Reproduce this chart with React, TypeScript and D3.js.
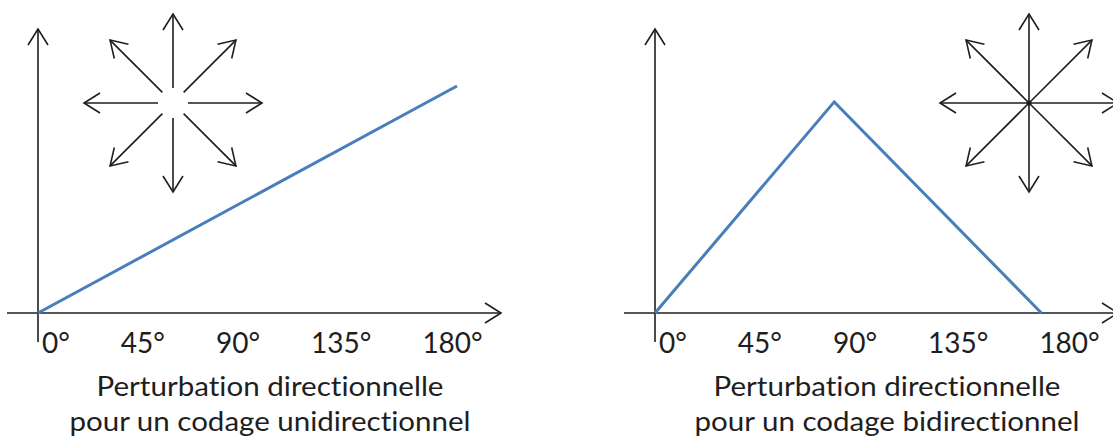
import React from 'react';
import * as d3 from 'd3';

// tick labels along the horizontal axis (degrees)
const tickLabels = ['0°', '45°', '90°', '135°', '180°'];

// unidirectional coding: perturbation grows with the angle
const uniAngles = [0, 180];
const uniValues = [0, 1];

// bidirectional coding: rises then falls back to zero
const biAngles = [0, 77, 166];
const biValues = [0, 0.93, 0];

// directions of the little compass (degrees)
const directions = [0, 45, 90, 135, 180, 225, 270, 315];

const titles = [
  ['Perturbation directionnelle', 'pour un codage unidirectionnel'],
  ['Perturbation directionnelle', 'pour un codage bidirectionnel'],
];

const W = 1113;
const H = 445;
const INK = '#1e1e1e';
const BLUE = '#4a7ebb';
const FONT = 'Lato, "Open Sans", sans-serif';
const noLig = { fontVariantLigatures: 'none', fontFeatureSettings: '"liga" 0, "clig" 0' } as React.CSSProperties;

const x = d3.scaleLinear().domain([0, 180]).range([0, 419]);
const y = d3.scaleLinear().domain([0, 1]).range([0, -227]);

// open "V" arrow head at (tx,ty) pointing along angle a (radians)
const chevron = (tx: number, ty: number, a: number, depth = 16, half = 10) => {
  const bx = tx - depth * Math.cos(a);
  const by = ty - depth * Math.sin(a);
  const nx = -Math.sin(a) * half;
  const ny = Math.cos(a) * half;
  return `M${bx + nx},${by + ny}L${tx},${ty}L${bx - nx},${by - ny}`;
};

const Compass: React.FC<{ cx: number; cy: number; inner: number }> = ({ cx, cy, inner }) => {
  const outer = 89;
  return (
    <g transform={`translate(${cx},${cy})`}>
      {directions.map(deg => {
        const a = (-deg * Math.PI) / 180;
        const x0 = inner * Math.cos(a);
        const y0 = inner * Math.sin(a);
        const x1 = outer * Math.cos(a);
        const y1 = outer * Math.sin(a);
        return (
          <g key={deg}>
            <line x1={x0} y1={y0} x2={x1} y2={y1} stroke={INK} strokeWidth={1.6} />
            <path d={chevron(x1, y1, a)} fill="none" stroke={INK} strokeWidth={1.6} />
          </g>
        );
      })}
      {inner === 0 && <circle r={2.5} fill={INK} />}
    </g>
  );
};

const Panel: React.FC<{
  ox: number;
  angles: number[];
  values: number[];
  compassX: number;
  inner: number;
  title: string[];
  line2Len: number;
}> = ({ ox, angles, values, compassX, inner, title, line2Len }) => {
  const pts = angles.map((a, i) => [a, values[i]] as [number, number]);
  const line = d3
    .line<[number, number]>()
    .x(d => x(d[0]))
    .y(d => y(d[1]));
  const axisRight = 463;
  const axisTop = -284;
  return (
    <g transform={`translate(${ox},313)`}>
      {/* axes */}
      <line x1={-31} y1={0} x2={axisRight} y2={0} stroke={INK} strokeWidth={1.6} />
      <path d={chevron(axisRight, 0, 0)} fill="none" stroke={INK} strokeWidth={1.6} />
      <line x1={0} y1={29} x2={0} y2={axisTop} stroke={INK} strokeWidth={1.6} />
      <path d={chevron(0, axisTop, -Math.PI / 2)} fill="none" stroke={INK} strokeWidth={1.6} />

      <path d={line(pts) || ''} fill="none" stroke={BLUE} strokeWidth={3} strokeLinejoin="miter" />

      <Compass cx={compassX} cy={-210} inner={inner} />

      {/* tick labels flow like a spaced text line */}
      <text x={4} y={40} fontFamily={FONT} fontSize={28} fill={INK} style={noLig}>
        {tickLabels.map((t, i) => (
          <tspan key={t} dx={i === 0 ? 0 : 51}>
            {t}
          </tspan>
        ))}
      </text>

      <text
        x={232}
        y={83}
        textAnchor="middle"
        fontFamily={FONT}
        fontSize={27}
        fill={INK}
        style={noLig}
        textLength={347}
        lengthAdjust="spacingAndGlyphs"
      >
        {title[0]}
      </text>
      <text
        x={232}
        y={118}
        textAnchor="middle"
        fontFamily={FONT}
        fontSize={27}
        fill={INK}
        style={noLig}
        textLength={line2Len}
        lengthAdjust="spacingAndGlyphs"
      >
        {title[1]}
      </text>
    </g>
  );
};

export default function App() {
  return (
    <svg
      width={W}
      height={H}
      viewBox={`0 0 ${W} ${H}`}
      style={{ position: 'absolute', left: 0, top: 0, background: '#fff' }}
    >
      <rect width={W} height={H} fill="#fff" />
      <Panel ox={38} angles={uniAngles} values={uniValues} compassX={135} inner={15} title={titles[0]} line2Len={401} />
      <Panel ox={655} angles={biAngles} values={biValues} compassX={374} inner={0} title={titles[1]} line2Len={385} />
    </svg>
  );
}
